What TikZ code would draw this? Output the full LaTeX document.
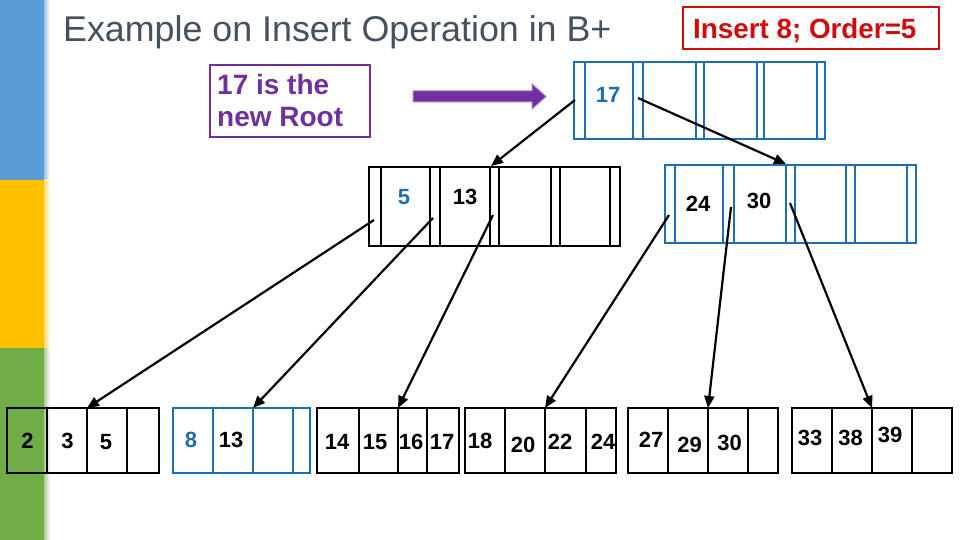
\documentclass[tikz,border=0pt]{standalone}
\usepackage{fontspec}
\setmainfont{Liberation Sans}
\usetikzlibrary{arrows.meta}
\definecolor{barblue}{RGB}{91,155,213}
\definecolor{baryellow}{RGB}{255,192,0}
\definecolor{bargreen}{RGB}{112,173,71}
\definecolor{nodeblue}{RGB}{30,110,180}
\definecolor{keyblue}{RGB}{30,110,180}
\definecolor{titlegray}{RGB}{70,80,95}
\definecolor{redbox}{RGB}{210,10,10}
\definecolor{purp}{RGB}{112,48,160}
\definecolor{purpedge}{RGB}{160,130,195}
\tikzset{
  blkbox/.style={draw=black, line width=2pt},
  blkleaf/.style={draw=black, line width=1.6pt},
  blubox/.style={draw=nodeblue, line width=2.8pt},
  bluleaf/.style={draw=nodeblue, line width=1.8pt},
  keytxt/.style={font=\bfseries\fontsize{22}{22}\selectfont, inner sep=0pt, anchor=center},
  ptrarrow/.style={-{Triangle[length=12pt,width=10pt]}, line width=2.2pt, black},
}
\begin{document}
\begin{tikzpicture}[x=1pt,y=-1pt]
\useasboundingbox (0,0) rectangle (960,540);
\fill[white] (0,0) rectangle (960,540);
% side bar
\fill[barblue] (0,0) rectangle (44,180);
\fill[baryellow] (0,180) rectangle (44,348);
\fill[bargreen] (0,348) rectangle (44,540);
\shade[left color=barblue!60, right color=white] (44,0) rectangle (50,180);
\shade[left color=baryellow!60, right color=white] (44,180) rectangle (50,348);
\shade[left color=bargreen!60, right color=white] (44,348) rectangle (50,540);

% title
\node[anchor=base west, inner sep=0pt, text=titlegray, font=\fontsize{35.8}{36}\selectfont] (title) at (63,42) {Example on Insert Operation in B+};

% red box
\draw[redbox, line width=2.5pt] (683,7) rectangle (939,49);
\node[anchor=base west, inner sep=0pt, text=redbox, font=\bfseries\fontsize{27.8}{28}\selectfont] (ins) at (693,39) {Insert 8; Order=5};

% purple note
\draw[purp, line width=2.8pt] (210,65) rectangle (370,137);
\node[anchor=base west, inner sep=0pt, text=purp, font=\bfseries\fontsize{28}{28}\selectfont] (note1) at (217,95) {17 is the};
\node[anchor=base west, inner sep=0pt, text=purp, font=\bfseries\fontsize{28}{28}\selectfont] (note2) at (217,127) {new Root};
\filldraw[fill=purp, draw=purpedge, line width=1pt]
  (413,91) -- (532,91) -- (532,84) -- (546,96.5) -- (532,109) -- (532,102) -- (413,102) -- cycle;

% root node
\draw[blubox] (574,62) rectangle (825,139);
\foreach \x in {585,633,643,696,704,757,764,817} \draw[blubox] (\x,62) -- (\x,139);
\node[keytxt, text=keyblue] (r17) at (608,95) {17};

% left internal node
\draw[blkbox] (369,167) rectangle (620,246);
\foreach \x in {381,430,440,490,499,551,560,610} \draw[blkbox] (\x,167) -- (\x,246);
\node[keytxt, text=keyblue] (i5) at (404,197.5) {5};
\node[keytxt] (i13) at (465,197) {13};

% right internal node
\draw[blubox] (665,165) rectangle (916,243);
\foreach \x in {675,723,734,786,795,846,855,907} \draw[blubox] (\x,165) -- (\x,243);
\node[keytxt] (i24) at (698,203.5) {24};
\node[keytxt] (i30) at (759,201) {30};

% leaves
\draw[blkleaf] (7,408) rectangle (159,473);
\foreach \x in {47,87,127} \draw[blkleaf] (\x,408) -- (\x,473);
\node[keytxt] (l2) at (27.5,441) {2};
\node[keytxt] (l3) at (67.5,441) {3};
\node[keytxt] (l5) at (106,442) {5};

\draw[bluleaf] (173,408) rectangle (310,473);
\foreach \x in {213,253,293} \draw[bluleaf] (\x,408) -- (\x,473);
\node[keytxt, text=keyblue] (l8) at (191,440) {8};
\node[keytxt] (l13) at (231,440) {13};

\draw[blkleaf] (317,408) rectangle (459,473);
\foreach \x in {359,398,427} \draw[blkleaf] (\x,408) -- (\x,473);
\node[keytxt] (l14) at (337,442) {14};
\node[keytxt] (l15) at (375,442) {15};
\node[keytxt] (l16) at (411,442) {16};
\node[keytxt] (l17) at (442,442) {17};

\draw[blkleaf] (465,408) rectangle (616,473);
\foreach \x in {505,545,586} \draw[blkleaf] (\x,408) -- (\x,473);
\node[keytxt] (l18) at (480,441) {18};
\node[keytxt] (l20) at (523,445) {20};
\node[keytxt] (l22) at (560,442) {22};
\node[keytxt] (l24) at (603,442) {24};

\draw[blkleaf] (628,408) rectangle (778,473);
\foreach \x in {668,708,748} \draw[blkleaf] (\x,408) -- (\x,473);
\node[keytxt] (l27) at (651,440) {27};
\node[keytxt] (l29) at (689.5,444.5) {29};
\node[keytxt] (l30) at (729.5,443) {30};

\draw[blkleaf] (792,408) rectangle (952,473);
\foreach \x in {832,872,912} \draw[blkleaf] (\x,408) -- (\x,473);
\node[keytxt] (l33) at (810,438) {33};
\node[keytxt] (l38) at (850.5,438) {38};
\node[keytxt] (l39) at (890,434.5) {39};

% pointer coordinates
\coordinate (rp0) at (575,100);
\coordinate (rp1) at (638,98);
\coordinate (lp0) at (374,220);
\coordinate (lp1) at (433,218);
\coordinate (lp2) at (493,215);
\coordinate (rq0) at (669,215);
\coordinate (rq1) at (731,207);
\coordinate (rq2) at (790,203);
\coordinate (tL) at (491,166);
\coordinate (tR) at (786,164);
\coordinate (t1) at (87,408);
\coordinate (t2) at (253,408);
\coordinate (t3) at (398,408);
\coordinate (t4) at (545,408);
\coordinate (t5) at (708,408);
\coordinate (t6) at (872,408);

\draw[ptrarrow] (rp0) -- (tL);
\draw[ptrarrow] (rp1) -- (tR);
\draw[ptrarrow] (lp0) -- (t1);
\draw[ptrarrow] (lp1) -- (t2);
\draw[ptrarrow] (lp2) -- (t3);
\draw[ptrarrow] (rq0) -- (t4);
\draw[ptrarrow] (rq1) -- (t5);
\draw[ptrarrow] (rq2) -- (t6);
\end{tikzpicture}
\end{document}
